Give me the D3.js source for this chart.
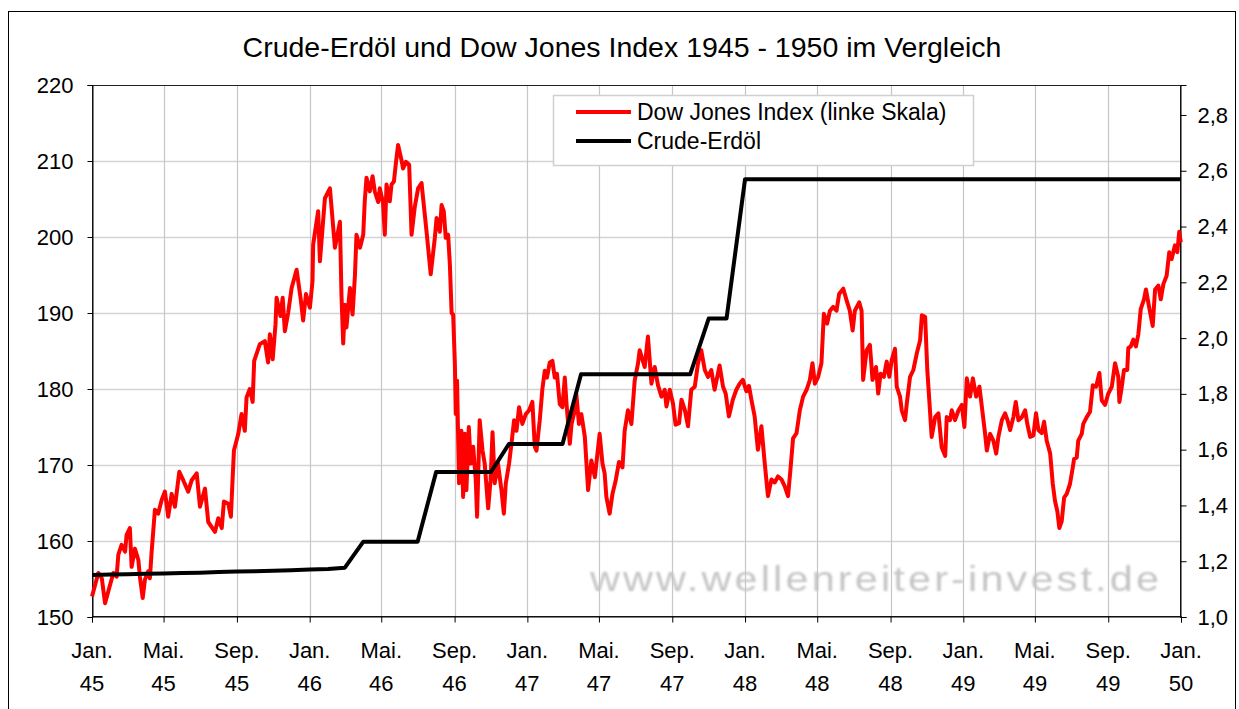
<!DOCTYPE html>
<html><head><meta charset="utf-8">
<script src="https://cdn.jsdelivr.net/npm/d3@7"></script>
<style>body{margin:0;background:#fff} svg{display:block} text{font-family:"Liberation Sans",Arial,sans-serif;fill:#000}</style>
</head><body><svg id="c" width="1239" height="709"></svg>
<script>
const chartTitle = "Crude-Erdöl und Dow Jones Index 1945 - 1950 im Vergleich";
const seriesNames = ["Dow Jones Index (linke Skala)", "Crude-Erdöl"];
const watermark = "www.wellenreiter-invest.de";
const leftTicks = [150,160,170,180,190,200,210,220];
const rightTicks = [1.0,1.2,1.4,1.6,1.8,2.0,2.2,2.4,2.6,2.8];
const monthLabels = ["Jan.","Mai.","Sep."];

const oilMonths = ["1945-01","1945-02","1945-03","1945-04","1945-05","1945-06","1945-07","1945-08","1945-09","1945-10","1945-11","1945-12",
"1946-01","1946-02","1946-03","1946-04","1946-05","1946-06","1946-07","1946-08","1946-09","1946-10","1946-11","1946-12",
"1947-01","1947-02","1947-03","1947-04","1947-05","1947-06","1947-07","1947-08","1947-09","1947-10","1947-11","1947-12",
"1948-01","1948-02","1948-03","1948-04","1948-05","1948-06","1948-07","1948-08","1948-09","1948-10","1948-11","1948-12",
"1949-01","1949-02","1949-03","1949-04","1949-05","1949-06","1949-07","1949-08","1949-09","1949-10","1949-11","1949-12","1950-01"];
const oilValues = [1.151,1.152,1.153,1.155,1.156,1.158,1.159,1.161,1.163,1.164,1.166,1.168,
1.170,1.172,1.177,1.27,1.27,1.27,1.27,1.52,1.52,1.52,1.52,1.62,
1.62,1.62,1.62,1.87,1.87,1.87,1.87,1.87,1.87,1.87,2.07,2.07,
2.57,2.57,2.57,2.57,2.57,2.57,2.57,2.57,2.57,2.57,2.57,2.57,
2.57,2.57,2.57,2.57,2.57,2.57,2.57,2.57,2.57,2.57,2.57,2.57,2.57];

// [decimal year, index value]
const dowJones = [
[1945.000,152.7],[1945.029,155.8],[1945.045,155.1],[1945.060,151.8],[1945.075,153.4],[1945.098,155.8],[1945.113,155.3],[1945.121,158.2],
[1945.136,159.5],[1945.152,158.6],[1945.159,160.8],[1945.174,161.7],[1945.182,156.6],[1945.197,159.0],[1945.213,157.5],[1945.220,155.3],
[1945.233,152.5],[1945.243,154.9],[1945.258,156.0],[1945.266,155.1],[1945.274,158.6],[1945.289,164.1],[1945.304,163.6],[1945.320,165.4],
[1945.335,166.5],[1945.350,163.2],[1945.366,166.2],[1945.381,164.5],[1945.401,169.1],[1945.419,168.0],[1945.442,166.5],[1945.458,168.0],
[1945.481,168.9],[1945.496,164.5],[1945.519,166.9],[1945.534,162.5],[1945.565,161.2],[1945.580,163.0],[1945.596,161.7],[1945.606,165.2],
[1945.626,164.9],[1945.638,163.2],[1945.646,168.2],[1945.652,171.9],[1945.672,174.1],[1945.687,176.7],[1945.702,174.5],[1945.710,178.9],
[1945.725,180.0],[1945.738,178.3],[1945.745,183.7],[1945.771,185.9],[1945.794,186.3],[1945.809,183.5],[1945.817,187.2],[1945.830,183.9],
[1945.843,188.5],[1945.848,192.0],[1945.866,189.6],[1945.876,192.0],[1945.886,187.6],[1945.901,190.0],[1945.917,193.3],[1945.940,195.7],
[1945.958,192.0],[1945.970,189.0],[1945.983,192.5],[1946.001,190.7],[1946.013,194.2],[1946.016,199.0],[1946.039,203.4],[1946.047,196.8],
[1946.070,205.1],[1946.093,206.4],[1946.116,198.6],[1946.139,202.0],[1946.146,192.4],[1946.154,186.0],[1946.162,191.1],[1946.169,188.1],
[1946.185,193.3],[1946.197,189.8],[1946.208,195.0],[1946.215,200.3],[1946.231,198.6],[1946.246,200.3],[1946.253,204.7],[1946.261,207.8],
[1946.276,206.0],[1946.289,208.0],[1946.299,206.0],[1946.315,204.6],[1946.322,206.4],[1946.337,204.5],[1946.345,200.3],[1946.353,206.9],
[1946.368,204.7],[1946.376,206.9],[1946.387,207.3],[1946.396,209.7],[1946.406,212.1],[1946.422,210.1],[1946.429,209.0],[1946.442,209.9],
[1946.457,209.5],[1946.468,200.3],[1946.483,204.0],[1946.498,206.4],[1946.514,207.1],[1946.521,205.1],[1946.537,200.7],[1946.556,195.1],
[1946.575,199.9],[1946.583,202.5],[1946.598,200.7],[1946.606,204.2],[1946.616,203.4],[1946.625,199.9],[1946.636,200.3],[1946.644,196.4],
[1946.652,190.0],[1946.659,189.8],[1946.667,183.3],[1946.671,176.7],[1946.677,181.1],[1946.686,167.6],[1946.697,174.5],[1946.705,165.8],
[1946.713,174.1],[1946.720,166.7],[1946.731,175.0],[1946.740,170.2],[1946.751,172.4],[1946.763,168.0],[1946.769,163.2],[1946.781,175.9],
[1946.794,171.9],[1946.804,170.2],[1946.820,164.3],[1946.831,168.0],[1946.840,174.3],[1946.850,167.6],[1946.865,170.2],[1946.881,166.7],
[1946.892,163.6],[1946.901,167.6],[1946.916,170.2],[1946.927,172.8],[1946.939,175.9],[1946.950,174.5],[1946.962,177.6],[1946.977,175.4],
[1946.993,176.7],[1947.008,177.2],[1947.023,178.3],[1947.034,172.4],[1947.042,171.9],[1947.057,175.9],[1947.069,180.0],[1947.080,182.4],
[1947.090,181.5],[1947.103,183.5],[1947.115,183.7],[1947.126,181.5],[1947.136,182.0],[1947.149,178.0],[1947.161,177.6],[1947.172,181.5],
[1947.180,178.0],[1947.195,172.8],[1947.203,175.4],[1947.218,177.2],[1947.225,179.3],[1947.237,175.4],[1947.248,176.7],[1947.264,173.7],
[1947.279,166.7],[1947.294,170.6],[1947.310,168.4],[1947.332,174.1],[1947.345,170.2],[1947.355,168.9],[1947.363,165.8],[1947.378,163.6],
[1947.391,166.2],[1947.406,168.0],[1947.421,170.4],[1947.437,169.7],[1947.447,174.5],[1947.462,177.2],[1947.478,175.4],[1947.493,181.1],
[1947.508,183.3],[1947.516,185.1],[1947.539,182.9],[1947.554,186.9],[1947.570,180.7],[1947.585,182.9],[1947.600,180.5],[1947.616,179.0],
[1947.631,179.9],[1947.639,177.7],[1947.654,179.9],[1947.669,178.1],[1947.681,175.3],[1947.697,175.5],[1947.708,178.6],[1947.723,177.3],
[1947.738,175.1],[1947.753,179.9],[1947.769,180.3],[1947.784,183.4],[1947.799,185.1],[1947.815,182.5],[1947.830,181.6],[1947.845,182.5],
[1947.860,179.9],[1947.876,182.1],[1947.883,183.1],[1947.899,180.3],[1947.911,179.4],[1947.926,176.4],[1947.944,178.6],[1947.960,179.9],
[1947.975,180.7],[1947.990,181.2],[1948.006,179.7],[1948.018,180.4],[1948.029,178.6],[1948.044,176.4],[1948.059,172.0],[1948.075,175.1],
[1948.090,170.3],[1948.105,165.9],[1948.121,168.1],[1948.136,167.7],[1948.151,168.5],[1948.167,168.1],[1948.182,167.2],[1948.197,165.9],
[1948.208,169.4],[1948.220,173.5],[1948.236,174.2],[1948.251,177.2],[1948.266,179.0],[1948.282,179.9],[1948.297,181.2],[1948.309,183.4],
[1948.320,180.7],[1948.335,181.6],[1948.350,183.4],[1948.361,189.9],[1948.376,188.6],[1948.389,190.3],[1948.404,190.8],[1948.419,190.3],
[1948.431,192.5],[1948.450,193.2],[1948.465,191.7],[1948.480,190.3],[1948.493,187.7],[1948.503,190.3],[1948.523,191.4],[1948.534,190.3],
[1948.541,181.2],[1948.557,185.1],[1948.572,185.8],[1948.584,181.2],[1948.600,182.9],[1948.610,179.4],[1948.621,182.0],[1948.636,181.6],
[1948.649,183.6],[1948.661,181.6],[1948.672,183.8],[1948.687,185.3],[1948.695,180.3],[1948.710,179.0],[1948.718,177.2],[1948.733,175.9],
[1948.741,178.1],[1948.756,181.6],[1948.771,182.5],[1948.787,184.7],[1948.802,186.4],[1948.810,189.7],[1948.825,189.5],[1948.835,182.5],
[1948.844,178.6],[1948.855,173.7],[1948.871,176.3],[1948.886,176.8],[1948.901,172.3],[1948.917,171.2],[1948.924,176.3],[1948.939,175.9],
[1948.947,177.2],[1948.962,175.9],[1948.978,177.2],[1948.993,177.9],[1949.005,175.0],[1949.016,181.4],[1949.031,179.0],[1949.044,181.4],
[1949.059,179.0],[1949.074,180.3],[1949.085,177.7],[1949.100,174.1],[1949.108,171.9],[1949.123,174.1],[1949.138,173.2],[1949.151,171.5],
[1949.161,173.7],[1949.177,175.9],[1949.192,176.8],[1949.203,175.9],[1949.215,174.6],[1949.230,176.3],[1949.241,178.3],[1949.253,175.9],
[1949.269,176.3],[1949.284,177.2],[1949.294,175.4],[1949.307,173.7],[1949.322,173.9],[1949.334,176.8],[1949.345,174.6],[1949.360,174.2],
[1949.371,175.7],[1949.383,173.2],[1949.399,171.5],[1949.411,167.5],[1949.421,165.3],[1949.432,163.9],[1949.441,161.7],[1949.452,162.6],
[1949.463,165.7],[1949.475,166.2],[1949.490,167.5],[1949.503,169.7],[1949.509,170.8],[1949.521,171.0],[1949.528,173.2],[1949.544,174.1],
[1949.551,175.4],[1949.567,176.3],[1949.582,177.0],[1949.595,180.5],[1949.610,180.3],[1949.625,182.1],[1949.636,178.5],[1949.651,177.9],
[1949.666,179.4],[1949.682,180.3],[1949.697,183.4],[1949.712,181.6],[1949.717,178.3],[1949.728,180.3],[1949.738,182.5],[1949.753,182.5],
[1949.758,185.4],[1949.769,185.6],[1949.781,186.5],[1949.793,185.6],[1949.804,187.2],[1949.815,190.5],[1949.830,191.8],[1949.839,193.1],
[1949.854,190.7],[1949.870,188.3],[1949.881,193.1],[1949.896,193.6],[1949.907,191.8],[1949.919,193.8],[1949.934,194.9],[1949.946,198.0],
[1949.957,197.1],[1949.972,198.9],[1949.983,198.0],[1949.992,200.7],[1949.999,199.3]
];

const svg = d3.select("#c");
const L = 92, R = 1181, T = 85, B = 617;

function toDate(t){
  const y = Math.floor(t);
  const s = new Date(y,0,1), e = new Date(y+1,0,1);
  return new Date(+s + (t - y) * (e - s));
}
const parseMonth = d3.timeParse("%Y-%m");

const x = d3.scaleTime().domain([new Date(1945,0,1), new Date(1950,0,1)]).range([L, R]);
const yL = d3.scaleLinear().domain([150, 220]).range([B, T]);
const yR = d3.scaleLinear().domain([1.0, 2.9075]).range([B, T]);
const xTicks = x.ticks(d3.timeMonth.every(4));

// outer border
svg.append("rect").attr("x",8.5).attr("y",11.5).attr("width",1227).attr("height",710)
  .attr("fill","#fff").attr("stroke","#000").attr("stroke-width",1);

// title
svg.append("text").attr("x",622).attr("y",57).attr("text-anchor","middle")
  .style("font-size","28.5px").text(chartTitle);

// gridlines
const grid = svg.append("g");
grid.selectAll("line.h").data(leftTicks.slice(1,-1)).join("line")
  .attr("x1",L).attr("x2",R).attr("y1",d=>Math.round(yL(d))+0.5).attr("y2",d=>Math.round(yL(d))+0.5)
  .attr("stroke","#d4d4d4").attr("stroke-width",1.6);
grid.selectAll("line.v").data(xTicks.slice(1,-1)).join("line")
  .attr("x1",d=>Math.round(x(d))+0.5).attr("x2",d=>Math.round(x(d))+0.5).attr("y1",T).attr("y2",B)
  .attr("stroke","#c6c6c6").attr("stroke-width",1.2);

// watermark
const defs = svg.append("defs");
defs.append("filter").attr("id","blur").append("feGaussianBlur").attr("stdDeviation",0.9);
const sx = 1.15;
svg.append("g").attr("transform",`scale(${sx},1)`)
  .append("text").attr("x",590/sx).attr("y",591)
  .attr("textLength",569/sx).attr("lengthAdjust","spacing")
  .attr("filter","url(#blur)")
  .style("font-size","36px").style("fill","#c4c4c4")
  .text(watermark);

// plot frame
svg.append("rect").attr("x",L+0.5).attr("y",T+0.5).attr("width",R-L-1).attr("height",B-T-1)
  .attr("fill","none").attr("stroke","#222").attr("stroke-width",1);

// axes
const axL = svg.append("g").attr("transform",`translate(${L+0.5},0)`)
  .call(d3.axisLeft(yL).tickValues(leftTicks).tickSize(5).tickPadding(14).tickFormat(d3.format("d")));
const axR = svg.append("g").attr("transform",`translate(${R-0.5},0)`)
  .call(d3.axisRight(yR).tickValues(rightTicks).tickSize(6).tickPadding(11).tickFormat(d=>d3.format(".1f")(d).replace(".",",")));
const axB = svg.append("g").attr("transform",`translate(0,${B-0.5})`)
  .call(d3.axisBottom(x).tickValues(xTicks).tickSize(6).tickFormat(""));
[axL,axR,axB].forEach(a=>{
  a.select(".domain").attr("stroke","#000");
  a.selectAll(".tick line").attr("stroke","#000");
  a.selectAll("text").style("font-size","22px").attr("font-family",null).attr("fill","#000");
});
const xl = svg.append("g");
xl.selectAll("text.m").data(xTicks).join("text")
  .attr("x",d=>x(d)).attr("y",658).attr("text-anchor","middle").style("font-size","22px")
  .text(d=>monthLabels[d.getMonth()/4]);
xl.selectAll("text.yr").data(xTicks).join("text")
  .attr("x",d=>x(d)).attr("y",691).attr("text-anchor","middle").style("font-size","22px")
  .text(d=>String(d.getFullYear()%100).padStart(2,"0"));

// lines
const dowLine = d3.line().x(d=>x(toDate(d[0]))).y(d=>yL(d[1]));
const oilData = oilMonths.map((m,i)=>[parseMonth(m), oilValues[i]]);
const oilLine = d3.line().x(d=>x(d[0])).y(d=>yR(d[1]));

svg.append("path").datum(dowJones).attr("d",dowLine)
  .attr("fill","none").attr("stroke","#ff0000").attr("stroke-width",4).attr("stroke-linejoin","round");
svg.append("path").datum(oilData).attr("d",oilLine)
  .attr("fill","none").attr("stroke","#000").attr("stroke-width",4).attr("stroke-linejoin","round");

// legend
const lg = svg.append("g");
lg.append("rect").attr("x",553.5).attr("y",95.5).attr("width",420).attr("height",70)
  .attr("fill","#fff").attr("stroke","#d0d0d0").attr("stroke-width",1.5);
const legColors = ["#ff0000","#000"];
const legY = [112, 141];
seriesNames.forEach((n,i)=>{
  lg.append("line").attr("x1",576).attr("x2",631).attr("y1",legY[i]).attr("y2",legY[i])
    .attr("stroke",legColors[i]).attr("stroke-width",4);
  lg.append("text").attr("x",637).attr("y",legY[i]+7.5).style("font-size","23px").text(n);
});
</script></body></html>
